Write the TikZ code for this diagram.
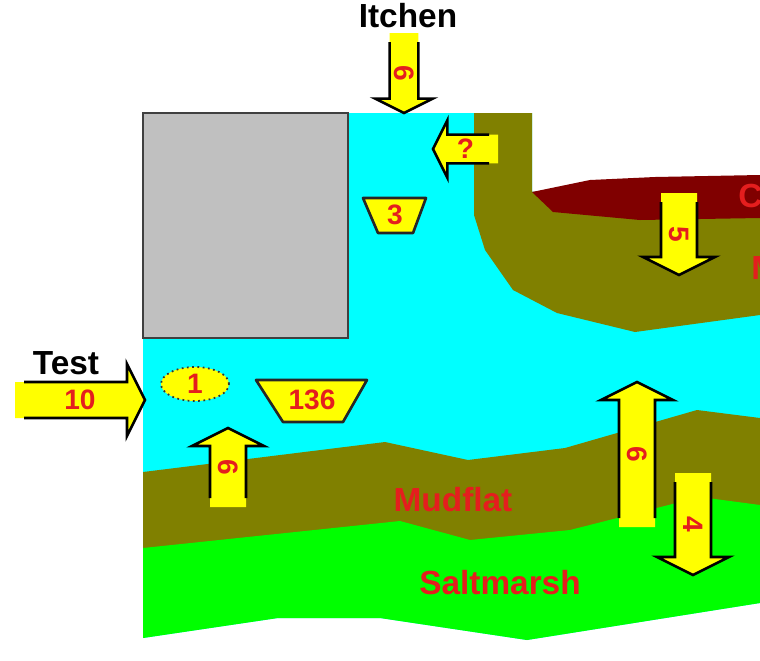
\documentclass[tikz,border=0pt]{standalone}
\usepackage{fontspec}
\setmainfont{Liberation Sans}
\usetikzlibrary{shapes.geometric}
\definecolor{water}{RGB}{0,255,255}
\definecolor{mud}{RGB}{128,128,0}
\definecolor{clay}{RGB}{128,0,0}
\definecolor{marsh}{RGB}{0,255,0}
\definecolor{flux}{RGB}{255,255,0}
\definecolor{textred}{RGB}{228,30,30}
\definecolor{wall}{RGB}{192,192,192}

% #1 name, #2 tail, #3 direction, #4 length, #5 size, #6 label, #7 label rotation
\newcommand{\flowarrow}[7]{%
	\begin{scope}[shift={#2},rotate=#3]
		\fill[flux] (0,{-18*#5}) -- ({#4-18*#5},{-18*#5}) -- ({#4-18*#5},{-36*#5})
			-- (#4,0) -- ({#4-18*#5},{36*#5}) -- ({#4-18*#5},{18*#5}) -- (0,{18*#5}) -- cycle;
		\draw[a-line] (9,{-18*#5}) -- ({#4-18*#5},{-18*#5}) -- ({#4-18*#5},{-36*#5})
			-- (#4,0) -- ({#4-18*#5},{36*#5}) -- ({#4-18*#5},{18*#5}) -- (9,{18*#5});
		\node[v-label,rotate=#7] (#1) at ({#4/2},0) {#6};
	\end{scope}}

\begin{document}
\begin{tikzpicture}[x=0.02cm,y=-0.02cm]
	\tikzstyle{a-line}=[draw=black,line width=1.5pt,line join=miter]
	\tikzstyle{v-label}=[text=textred,font=\fontsize{16}{16}\selectfont\bfseries,inner sep=0pt]
	\tikzstyle{z-label}=[text=textred,font=\fontsize{19}{19}\selectfont\bfseries,inner sep=0pt]
	\tikzstyle{r-label}=[text=black,font=\fontsize{19}{19}\selectfont\bfseries,inner sep=0pt]
	\tikzstyle{trap}=[fill=flux,draw=black!85,line width=1.5pt,line join=round]
	\useasboundingbox (0,0) rectangle (760,660);

	% water and beds
	\fill[water] (143,113) -- (532,113) -- (532,192) -- (760,176) -- (760,603)
		-- (527,640) -- (380,618) -- (278,618) -- (143,638) -- cycle;
	\fill[mud] (474,113) -- (532,113) -- (532,192) -- (760,175) -- (760,315) -- (635,332)
		-- (557,313) -- (513,290) -- (485,250) -- (474,215) -- cycle;
	\fill[clay] (532,192) -- (590,180) -- (655,177) -- (760,175) -- (760,218)
		-- (640,220) -- (553,212) -- cycle;
	\fill[mud] (143,472) -- (385,442) -- (468,460) -- (565,448) -- (697,410) -- (760,418)
		-- (760,530) -- (143,560) -- cycle;
	\fill[marsh] (143,548) -- (400,521) -- (470,540) -- (570,530) -- (700,497) -- (760,505)
		-- (760,603) -- (527,640) -- (380,618) -- (278,618) -- (143,638) -- cycle;
	\draw[fill=wall,draw=black!75,line width=1pt] (143,113) rectangle (348,338);

	% zone labels
	\node[r-label] (itchen) at (408,16) {Itchen};
	\node[r-label] (test) at (66,363) {Test};
	\node[z-label] (mudflat) at (453,500) {Mudflat};
	\node[z-label] (saltmarsh) at (500,583) {Saltmarsh};
	\node[z-label,anchor=west] (clay-lbl) at (738,196) {C};
	\node[z-label,anchor=west] (mud-lbl) at (751,268) {M};

	% stores
	\draw[trap] (363,198) -- (426,198) -- (413,233) -- (378,233) -- cycle;
	\node[v-label] (store-b) at (395,215) {3};
	\draw[trap] (256,380) -- (367,380) -- (343,422) -- (283,422) -- cycle;
	\node[v-label] (store-a) at (312,400) {136};
	\node[ellipse,fill=flux,draw=black!80,dotted,line width=1pt,minimum width=1.36cm,
		minimum height=0.68cm,inner sep=0pt,text=textred,font=\fontsize{16}{16}\selectfont\bfseries]
		(store-c) at (195,384) {1};

	% fluxes
	\flowarrow{itchen-in}{(404,33)}{-90}{80}{0.8}{6}{-90}
	\flowarrow{bank-out}{(498,149)}{180}{65}{0.8}{?}{0}
	\flowarrow{clay-down}{(679,193)}{-90}{82}{1}{5}{-90}
	\flowarrow{test-in}{(15,400)}{0}{130}{1}{10}{0}
	\flowarrow{mud-up}{(228,507)}{90}{79}{1}{6}{-90}
	\flowarrow{flat-up}{(637,527)}{90}{145}{1}{6}{-90}
	\flowarrow{marsh-down}{(693,473)}{-90}{102}{1}{4}{-90}
\end{tikzpicture}
\end{document}
